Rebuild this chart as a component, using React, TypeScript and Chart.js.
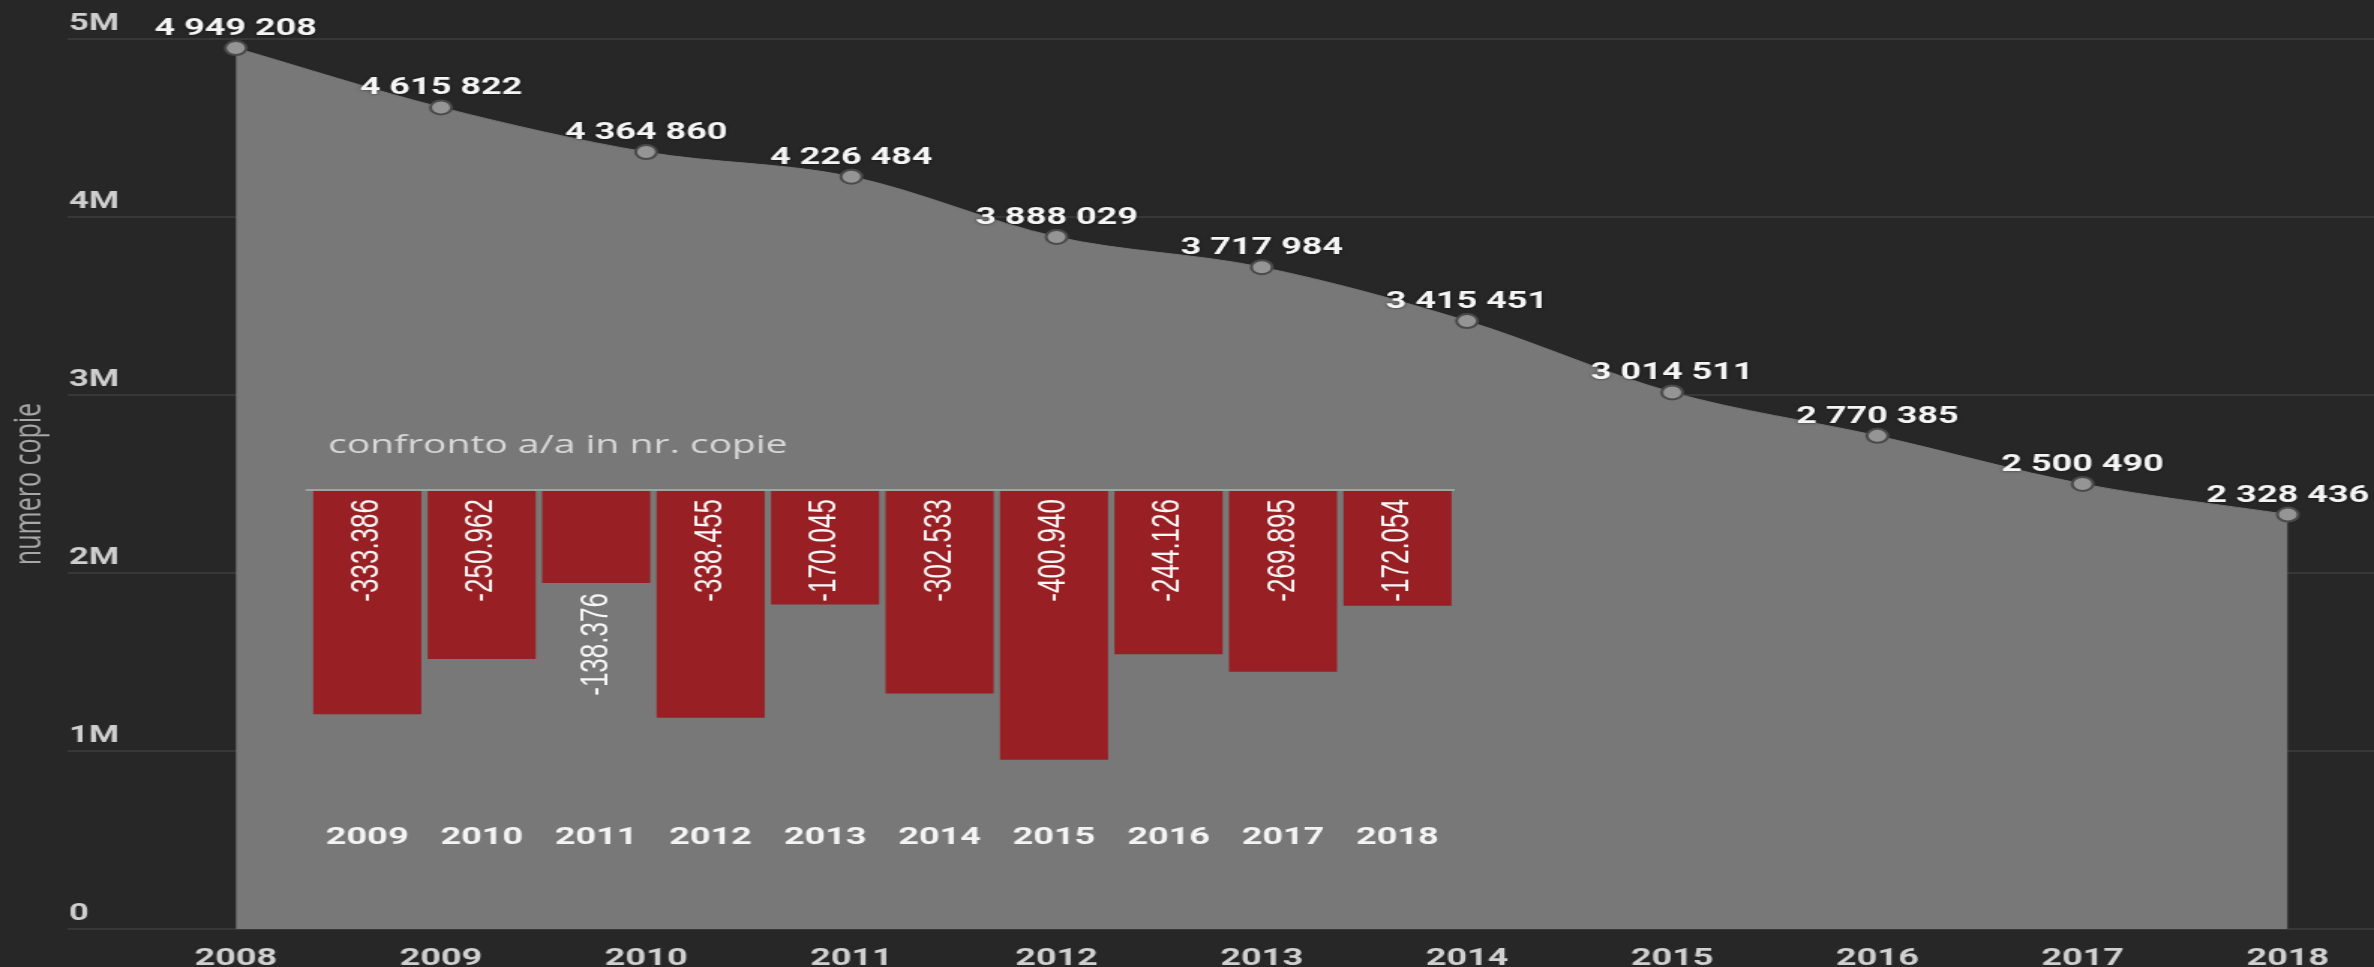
import React, { useEffect, useRef } from 'react';
import { Chart, registerables } from 'chart.js';

Chart.register(...registerables);

// ---- data ----
const years = [2008, 2009, 2010, 2011, 2012, 2013, 2014, 2015, 2016, 2017, 2018];
const copies = [4949208, 4615822, 4364860, 4226484, 3888029, 3717984, 3415451, 3014511, 2770385, 2500490, 2328436];
const yoyYears = ['2009', '2010', '2011', '2012', '2013', '2014', '2015', '2016', '2017', '2018'];
const yoyDelta = [-333386, -250962, -138376, -338455, -170045, -302533, -400940, -244126, -269895, -172054];
const yTickValues = [0, 1000000, 2000000, 3000000, 4000000, 5000000];
const yAxisTitle = 'numero copie';
const insetTitle = 'confronto a/a in nr. copie';

// ---- layout (internal canvas is drawn narrower and stretched horizontally) ----
const W = 1583;
const H = 967;
const CSS_W = 2374;
const BG = '#272727';

function fmtSpace(n: number): string {
  return String(n).replace(/\B(?=(\d{3})+(?!\d))/g, ' ');
}
function fmtDot(n: number): string {
  const s = String(Math.abs(n)).replace(/\B(?=(\d{3})+(?!\d))/g, '.');
  return (n < 0 ? '-' : '') + s;
}

const pointLabels = {
  id: 'pointLabels',
  afterDraw(chart: any) {
    const ctx = chart.ctx;
    const meta = chart.getDatasetMeta(0);
    ctx.save();
    ctx.font = 'bold 24px Roboto, "DejaVu Sans", sans-serif';
    ctx.textAlign = 'center';
    ctx.textBaseline = 'middle';
    ctx.fillStyle = '#f5f5f5';
    ctx.shadowColor = 'rgba(0,0,0,0.55)';
    ctx.shadowBlur = 3;
    meta.data.forEach((pt: any, i: number) => {
      ctx.fillText(fmtSpace(copies[i]), pt.x, pt.y - 19);
    });
    ctx.restore();
  },
};

const barLabels = {
  id: 'barLabels',
  afterDatasetsDraw(chart: any) {
    const ctx = chart.ctx;
    const meta = chart.getDatasetMeta(0);
    ctx.save();
    ctx.font = '26px "Liberation Sans", Arial, sans-serif';
    ctx.fillStyle = '#f7f7f7';
    ctx.textAlign = 'right';
    ctx.textBaseline = 'middle';
    meta.data.forEach((bar: any, i: number) => {
      const text = fmtDot(yoyDelta[i]);
      const w = ctx.measureText(text).width;
      const len = bar.y - bar.base;
      const anchorY = w + 6 <= len ? bar.base + 8 : bar.y + 10;
      ctx.save();
      ctx.translate(bar.x, anchorY);
      ctx.rotate(-Math.PI / 2);
      ctx.fillText(text, 0, 0);
      ctx.restore();
    });
    // inset title
    const area = chart.chartArea;
    ctx.font = '26px "Open Sans", sans-serif';
    ctx.fillStyle = '#d8d8d8';
    ctx.textAlign = 'left';
    ctx.textBaseline = 'middle';
    ctx.fillText(insetTitle, area.left + 12, area.top - 44);
    ctx.restore();
  },
};

export default function App() {
  const mainRef = useRef<HTMLCanvasElement | null>(null);
  const insetRef = useRef<HTMLCanvasElement | null>(null);

  useEffect(() => {
    const main = new Chart(mainRef.current as HTMLCanvasElement, {
      type: 'line',
      data: {
        datasets: [
          {
            data: years.map((y, i) => ({ x: y, y: copies[i] })),
            fill: 'origin',
            backgroundColor: '#787878',
            borderColor: '#787878',
            borderWidth: 1,
            cubicInterpolationMode: 'monotone',
            pointRadius: 7,
            pointBackgroundColor: '#959595',
            pointBorderColor: '#4a4a4a',
            pointBorderWidth: 2,
          },
        ],
      },
      options: {
        responsive: false,
        animation: false,
        layout: { autoPadding: false, padding: { top: 39, left: 0, right: 0, bottom: 0 } },
        plugins: {
          legend: { display: false },
          tooltip: { enabled: false },
          title: { display: false },
        },
        scales: {
          x: {
            type: 'linear',
            min: 2007.18,
            max: 2018.42,
            afterBuildTicks: (s: any) => {
              s.ticks = years.map((v) => ({ value: v }));
            },
            afterFit: (s: any) => {
              s.height = 38;
              s.paddingLeft = 0;
              s.paddingRight = 0;
            },
            grid: { display: false },
            border: { display: false },
            ticks: {
              color: '#d0d0d0',
              font: { family: 'Roboto', size: 24, weight: 'bold' },
              padding: 8,
              maxRotation: 0,
              autoSkip: false,
              callback: (v: any) => String(v),
            },
          },
          y: {
            min: 0,
            max: 5000000,
            z: 1,
            afterBuildTicks: (s: any) => {
              s.ticks = yTickValues.map((v) => ({ value: v }));
            },
            afterFit: (s: any) => {
              s.width = 45;
            },
            grid: { color: 'rgba(255,255,255,0.08)', lineWidth: 2, drawTicks: false },
            border: { display: false },
            ticks: {
              mirror: true,
              padding: 1,
              labelOffset: -15,
              color: '#cfcfcf',
              font: { family: 'Roboto', size: 23, weight: 'bold' },
              callback: (v: any) => (v === 0 ? '0' : v / 1000000 + 'M'),
            },
            title: {
              display: true,
              text: yAxisTitle,
              color: '#a8a8a8',
              font: { family: 'Open Sans', size: 25 },
              padding: { top: 5, bottom: 0 },
            },
          },
        },
      },
      plugins: [pointLabels],
    } as any);

    const inset = new Chart(insetRef.current as HTMLCanvasElement, {
      type: 'bar',
      data: {
        labels: yoyYears,
        datasets: [
          {
            data: yoyDelta,
            backgroundColor: '#981f23',
            borderWidth: 0,
            barPercentage: 0.944,
            categoryPercentage: 1,
          },
        ],
      },
      options: {
        responsive: false,
        animation: false,
        layout: { autoPadding: false, padding: { left: 206.7, right: 613, top: 490, bottom: 0 } },
        plugins: {
          legend: { display: false },
          tooltip: { enabled: false },
          title: { display: false },
        },
        scales: {
          x: {
            afterFit: (s: any) => {
              s.height = 157;
              s.paddingLeft = 0;
              s.paddingRight = 0;
            },
            grid: { display: false },
            border: { display: false },
            ticks: {
              color: '#f4f4f4',
              font: { family: 'Roboto', size: 24, weight: 'bold' },
              padding: 6,
              maxRotation: 0,
              autoSkip: false,
            },
          },
          y: {
            min: -475500,
            max: 0,
            afterBuildTicks: (s: any) => {
              s.ticks = [{ value: 0 }];
            },
            afterFit: (s: any) => {
              s.width = 0;
              s.paddingTop = 0;
              s.paddingBottom = 0;
            },
            border: { display: false },
            grid: { color: '#a2a2a2', lineWidth: 2, drawTicks: true, tickLength: 3 },
            ticks: { display: false },
          },
        },
      },
      plugins: [barLabels],
    } as any);

    return () => {
      main.destroy();
      inset.destroy();
    };
  }, []);

  const canvasStyle: React.CSSProperties = {
    position: 'absolute',
    left: 0,
    top: 0,
    width: CSS_W + 'px',
    height: H + 'px',
  };

  return (
    <div
      style={{
        position: 'fixed',
        left: 0,
        top: 0,
        width: CSS_W + 'px',
        height: H + 'px',
        background: BG,
        overflow: 'hidden',
      }}
    >
      <canvas ref={mainRef} width={W} height={H} style={canvasStyle} />
      <canvas ref={insetRef} width={W} height={H} style={{ ...canvasStyle, pointerEvents: 'none' }} />
    </div>
  );
}
